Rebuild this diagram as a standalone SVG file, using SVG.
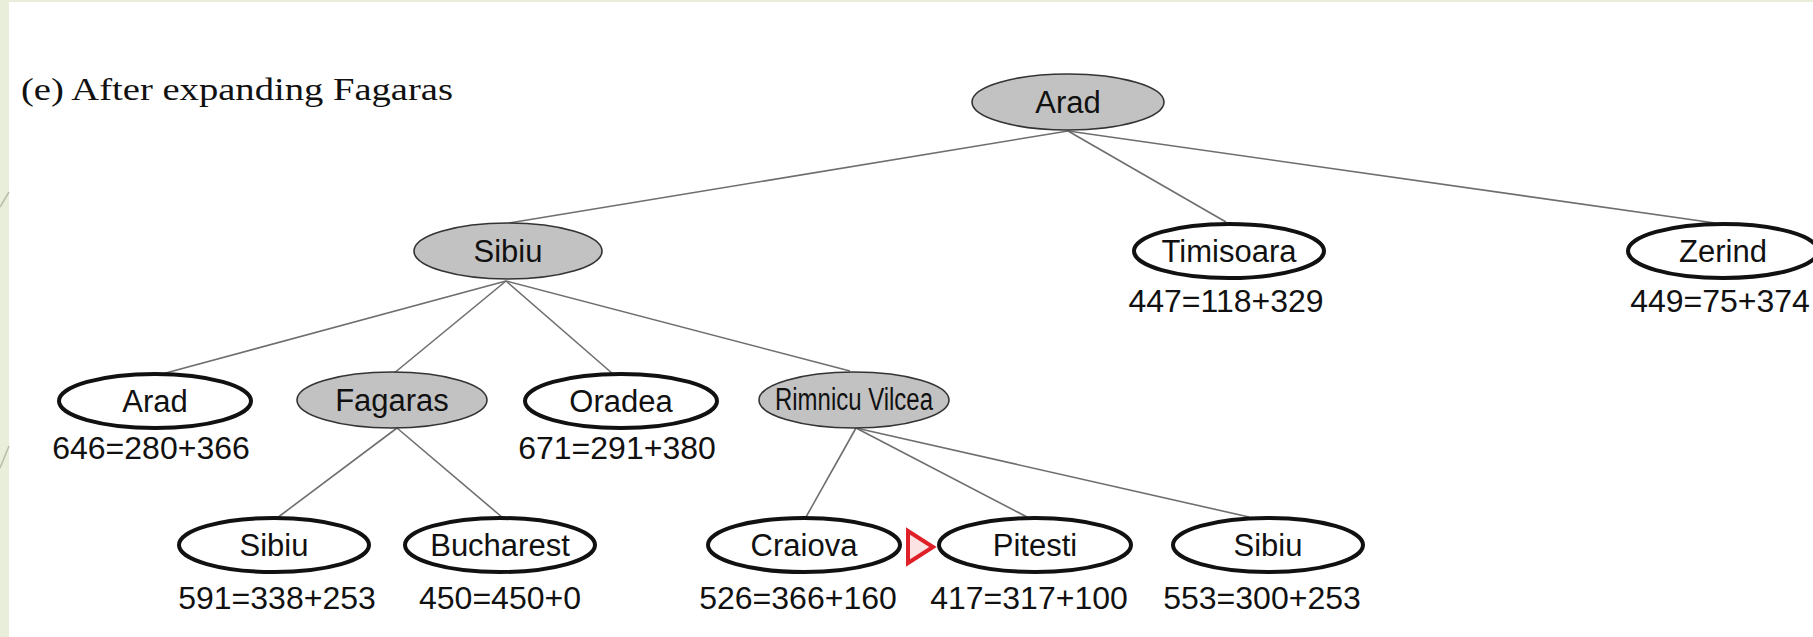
<svg xmlns="http://www.w3.org/2000/svg" width="1813" height="637" viewBox="0 0 1813 637">
  <style>
    .edge { stroke: #6e6e6e; stroke-width: 1.6; fill: none; }
    .open { fill: #ffffff; stroke: #111111; stroke-width: 4; }
    .done { fill: #c2c2c2; stroke: #333333; stroke-width: 1.6; }
    .name { font-family: "Liberation Sans", Arial, sans-serif; font-size: 31px; fill: #111111; text-anchor: middle; }
    .cost { font-family: "Liberation Sans", Arial, sans-serif; font-size: 32px; fill: #111111; text-anchor: middle; }
    .title { font-family: "Liberation Serif", "Times New Roman", serif; font-size: 31px; fill: #111111; }
  </style>

  <!-- page background with slide margin -->
  <rect x="0" y="0" width="1813" height="637" fill="#ffffff"/>
  <rect x="0" y="0" width="1813" height="2" fill="#e8eed9"/>
  <rect x="0" y="0" width="9" height="637" fill="#e8eed9"/>
  <line x1="0" y1="207" x2="9" y2="192" stroke="#b8bca8" stroke-width="1.5"/>
  <line x1="0" y1="468" x2="9" y2="446" stroke="#b8bca8" stroke-width="1.5"/>

  <text class="title" x="21" y="100" textLength="432" lengthAdjust="spacingAndGlyphs">(e) After expanding Fagaras</text>

  <g id="connectors">
    <line class="edge" x1="1068" y1="131" x2="509" y2="223"/>
    <line class="edge" x1="1068" y1="131" x2="1226" y2="222"/>
    <line class="edge" x1="1068" y1="131" x2="1715" y2="223"/>
    <line class="edge" x1="506" y1="281" x2="162" y2="374"/>
    <line class="edge" x1="506" y1="281" x2="393" y2="374"/>
    <line class="edge" x1="506" y1="281" x2="613" y2="374"/>
    <line class="edge" x1="506" y1="281" x2="850" y2="371"/>
    <line class="edge" x1="397" y1="428" x2="277" y2="518"/>
    <line class="edge" x1="397" y1="428" x2="503" y2="518"/>
    <line class="edge" x1="856" y1="428" x2="806" y2="517"/>
    <line class="edge" x1="856" y1="428" x2="1027" y2="517"/>
    <line class="edge" x1="856" y1="428" x2="1249" y2="517"/>
  </g>

  <g id="n-arad-root">
    <ellipse class="done" cx="1068" cy="102" rx="96" ry="28"/>
    <text class="name" x="1068" y="113">Arad</text>
  </g>

  <g id="n-sibiu">
    <ellipse class="done" cx="508" cy="251" rx="94" ry="28"/>
    <text class="name" x="508" y="262">Sibiu</text>
  </g>
  <g id="n-timisoara">
    <ellipse class="open" cx="1229" cy="251" rx="95" ry="27"/>
    <text class="name" x="1229" y="262">Timisoara</text>
    <text class="cost" x="1226" y="312">447=118+329</text>
  </g>
  <g id="n-zerind">
    <ellipse class="open" cx="1723" cy="251" rx="95" ry="27"/>
    <text class="name" x="1723" y="262">Zerind</text>
    <text class="cost" x="1720" y="312">449=75+374</text>
  </g>

  <g id="n-arad">
    <ellipse class="open" cx="155" cy="401" rx="96" ry="27"/>
    <text class="name" x="155" y="412">Arad</text>
    <text class="cost" x="151" y="459">646=280+366</text>
  </g>
  <g id="n-fagaras">
    <ellipse class="done" cx="392" cy="400" rx="95" ry="28"/>
    <text class="name" x="392" y="411">Fagaras</text>
  </g>
  <g id="n-oradea">
    <ellipse class="open" cx="621" cy="401" rx="96" ry="27"/>
    <text class="name" x="621" y="412">Oradea</text>
    <text class="cost" x="617" y="459">671=291+380</text>
  </g>
  <g id="n-rimnicu">
    <ellipse class="done" cx="854" cy="400" rx="95" ry="28"/>
    <text class="name" x="854" y="410" font-size="27" textLength="158" lengthAdjust="spacingAndGlyphs">Rimnicu Vilcea</text>
  </g>

  <g id="n-sibiu-2">
    <ellipse class="open" cx="274" cy="545" rx="95" ry="27"/>
    <text class="name" x="274" y="556">Sibiu</text>
    <text class="cost" x="277" y="609">591=338+253</text>
  </g>
  <g id="n-bucharest">
    <ellipse class="open" cx="500" cy="545" rx="95" ry="27"/>
    <text class="name" x="500" y="556">Bucharest</text>
    <text class="cost" x="500" y="609">450=450+0</text>
  </g>
  <g id="n-craiova">
    <ellipse class="open" cx="804" cy="545" rx="96" ry="27"/>
    <text class="name" x="804" y="556">Craiova</text>
    <text class="cost" x="798" y="609">526=366+160</text>
  </g>
  <g id="n-pitesti">
    <ellipse class="open" cx="1035" cy="545" rx="96" ry="27"/>
    <text class="name" x="1035" y="556">Pitesti</text>
    <text class="cost" x="1029" y="609">417=317+100</text>
  </g>
  <g id="n-sibiu-3">
    <ellipse class="open" cx="1268" cy="545" rx="95" ry="27"/>
    <text class="name" x="1268" y="556">Sibiu</text>
    <text class="cost" x="1262" y="609">553=300+253</text>
  </g>

  <!-- marker for the next node to expand -->
  <polygon id="next-marker" points="908,531 933,547 908,563" fill="#fbe3e3" stroke="#e02029" stroke-width="4" stroke-linejoin="miter"/>
</svg>
